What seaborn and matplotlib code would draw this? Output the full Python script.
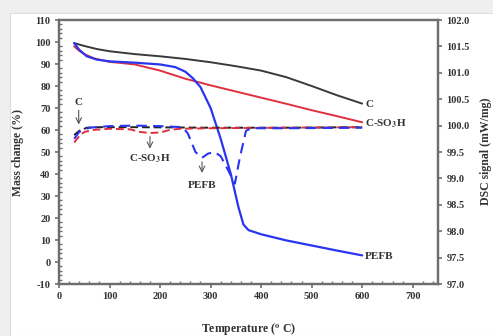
import numpy as np
import pandas as pd
import matplotlib
matplotlib.use("Agg")
import matplotlib.pyplot as plt
import seaborn as sns
from matplotlib.patches import Rectangle
from matplotlib.ticker import MultipleLocator

# ---- data ----
# TGA mass change (%)
T_c = [30, 50, 75, 100, 150, 200, 250, 300, 350, 400, 450, 500, 550, 600]
M_c = [99.5, 98.2, 96.8, 95.8, 94.5, 93.5, 92.3, 90.8, 89.0, 87.0, 84.0, 80.0, 75.8, 72.0]

T_s = [30, 40, 50, 70, 100, 150, 200, 250, 300, 350, 400, 450, 500, 550, 600]
M_s = [98.0, 96.0, 94.5, 92.5, 91.0, 89.8, 87.0, 83.3, 80.3, 77.5, 74.7, 71.9, 69.0, 66.3, 63.5]

T_p = [30, 40, 55, 75, 100, 150, 200, 230, 250, 265, 280, 300, 320, 340, 355, 365, 375, 400, 450, 500, 550, 600]
M_p = [99.5, 96.5, 93.5, 92.0, 91.2, 90.6, 89.8, 88.6, 86.5, 83.5, 79.5, 70.0, 56.0, 40.0, 25.0, 17.0, 14.5, 12.6, 9.8, 7.5, 5.2, 3.0]

# DSC signal (mW/mg)
Td_c = [30, 40, 55, 80, 150, 300, 450, 600]
D_c = [99.82, 99.90, 99.96, 99.97, 99.97, 99.96, 99.96, 99.97]

Td_s = [30, 40, 50, 70, 100, 140, 160, 180, 200, 220, 240, 300, 450, 600]
D_s = [99.68, 99.80, 99.88, 99.92, 99.94, 99.93, 99.88, 99.86, 99.87, 99.92, 99.94, 99.95, 99.96, 99.97]

Td_p = [30, 40, 60, 100, 150, 200, 245, 255, 270, 283, 295, 308, 320, 335, 348, 358, 370, 380, 450, 600]
D_p = [99.75, 99.88, 99.96, 99.99, 100.0, 99.99, 99.97, 99.85, 99.50, 99.39, 99.47, 99.50, 99.42, 99.15, 98.90, 99.40, 99.90, 99.95, 99.95, 99.96]

x_ticks = [0, 100, 200, 300, 400, 500, 600, 700]
y_ticks = list(range(-10, 111, 10))
y2_ticks = [97.0, 97.5, 98.0, 98.5, 99.0, 99.5, 100.0, 100.5, 101.0, 101.5, 102.0]

# ---- style ----
sns.set_style("ticks")
plt.rcParams["font.family"] = ["Liberation Serif", "DejaVu Serif"]
plt.rcParams["mathtext.fontset"] = "stix"

BLACK = "#3a3a3a"
RED = "#e0303e"
BLUE = "#2a35f0"
SPINE = "#6e6e6e"
TXT = "#333333"

fig = plt.figure(figsize=(4.93, 3.36), dpi=100)
fig.patch.set_facecolor("#efefef")
fig.patches.append(Rectangle((10 / 493, 0), 1, (336 - 13) / 336, transform=fig.transFigure,
                             facecolor="white", edgecolor="#dddddd", lw=0.8, zorder=-10))

ax = fig.add_axes([59 / 493, (336 - 284) / 336, (438 - 59) / 493, (284 - 20) / 336])
ax.set_facecolor("white")
ax2 = ax.twinx()

sns.lineplot(x=T_c, y=M_c, ax=ax, color=BLACK, lw=1.4)
sns.lineplot(x=T_s, y=M_s, ax=ax, color=RED, lw=1.4)
sns.lineplot(x=T_p, y=M_p, ax=ax, color=BLUE, lw=1.6)

sns.lineplot(x=Td_c, y=D_c, ax=ax2, color="#222222", lw=1.4, linestyle=(0, (4, 2)))
sns.lineplot(x=Td_s, y=D_s, ax=ax2, color=RED, lw=1.4, linestyle=(0, (4, 2)))
sns.lineplot(x=Td_p, y=D_p, ax=ax2, color=BLUE, lw=1.5, linestyle=(0, (5, 3)))

ax.set_xlim(0, 750)
ax.set_ylim(-10, 110)
ax2.set_ylim(97, 102)
ax.set_xticks(x_ticks)
ax.set_yticks(y_ticks)
ax2.set_yticks(y2_ticks)
ax.set_xticklabels([str(v) for v in x_ticks])
ax.set_yticklabels([str(v) for v in y_ticks])
ax2.set_yticklabels([f"{v:.1f}" for v in y2_ticks])
ax.xaxis.set_minor_locator(MultipleLocator(20))
ax.yaxis.set_minor_locator(MultipleLocator(2))

for a in (ax, ax2):
    for s in a.spines.values():
        s.set_color(SPINE)
        s.set_linewidth(1.6)
        s.set_visible(True)

ax.tick_params(axis="both", which="major", direction="out", length=3, width=1.2, color=SPINE,
               labelsize=7.5, labelcolor=TXT, pad=3)
ax.tick_params(axis="both", which="minor", direction="in", length=2, width=1.0, color=SPINE)
ax2.tick_params(axis="y", which="major", direction="out", length=3, width=1.2, color=SPINE,
                labelsize=7.5, labelcolor=TXT, pad=3)
for lab in ax.get_xticklabels() + ax.get_yticklabels() + ax2.get_yticklabels():
    lab.set_fontweight("bold")

ax.set_xlabel(r"Temperature ($^{\mathbf{o}}$ C)", fontsize=8.5, fontweight="bold", color=TXT, labelpad=14)
ax.set_ylabel("Mass change (%)", fontsize=8.5, fontweight="bold", color=TXT, labelpad=8)
ax2.set_ylabel("")
fig.text(486 / 493, 0.55, "DSC signal (mW/mg)", rotation=90, ha="center", va="center",
         fontsize=8.5, fontweight="bold", color=TXT)

# end-of-curve labels
ax.text(606, 71.5, "C", fontsize=8, fontweight="bold", color=TXT, va="center")
ax.text(606, 63.0, r"C-SO$_{\mathbf{3}}$H", fontsize=8, fontweight="bold", color=TXT, va="center")
ax.text(606, 2.5, "PEFB", fontsize=8, fontweight="bold", color=TXT, va="center")

# arrow annotations
arrow = dict(arrowstyle="->", color="#555555", lw=0.8, shrinkA=0, shrinkB=0)
ax.text(39, 72.5, "C", fontsize=8, fontweight="bold", color=TXT, ha="center", va="center")
ax.annotate("", xy=(39, 62.5), xytext=(39, 69), arrowprops=arrow)
ax.text(180, 47.0, r"C-SO$_{\mathbf{3}}$H", fontsize=8, fontweight="bold", color=TXT, ha="center", va="center")
ax.annotate("", xy=(180, 51.5), xytext=(180, 57), arrowprops=arrow)
ax.text(283, 35.0, "PEFB", fontsize=8, fontweight="bold", color=TXT, ha="center", va="center")
ax.annotate("", xy=(283, 40.5), xytext=(283, 45.5), arrowprops=arrow)

fig.savefig("out.png", dpi=100, facecolor=fig.get_facecolor())
